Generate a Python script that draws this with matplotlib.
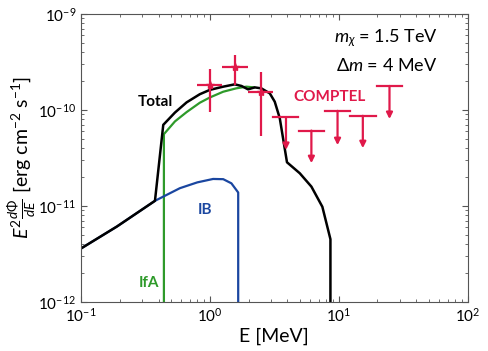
import numpy as np
import matplotlib
matplotlib.use('Agg')
import matplotlib.pyplot as plt

plt.rcParams['font.family'] = ['Lato', 'DejaVu Sans']
plt.rcParams['mathtext.fontset'] = 'custom'
plt.rcParams['mathtext.rm'] = 'Lato'
plt.rcParams['mathtext.it'] = 'Lato:italic'
plt.rcParams['mathtext.bf'] = 'Lato:bold'

# Total spectrum
total_E = [0.1, 0.19, 0.375, 0.435, 0.536, 0.66, 0.836, 1.0, 1.27, 1.56, 1.76, 1.98,
           2.23, 2.51, 2.92, 3.19, 3.49, 3.97, 4.99, 6.14, 7.47, 8.63, 8.63]
total_F = [3.6e-12, 6.1e-12, 1.13e-11, 7.0e-11, 9.4e-11, 1.2e-10, 1.46e-10, 1.62e-10,
           1.75e-10, 1.85e-10, 1.78e-10, 1.64e-10, 1.72e-10, 1.68e-10, 1.49e-10,
           1.22e-10, 8.2e-11, 2.85e-11, 2.19e-11, 1.59e-11, 9.8e-12, 4.5e-12, 1e-13]

# in-flight annihilation
ifa_E = [0.44, 0.44, 0.536, 0.66, 0.836, 1.0, 1.27, 1.6, 1.92, 2.2]
ifa_F = [1e-13, 5.6e-11, 7.6e-11, 9.5e-11, 1.19e-10, 1.35e-10, 1.55e-10, 1.68e-10,
         1.75e-10, 1.72e-10]

# internal bremsstrahlung
ib_E = [0.1, 0.19, 0.375, 0.585, 0.8, 1.06, 1.27, 1.47, 1.66, 1.66]
ib_F = [3.6e-12, 6.1e-12, 1.13e-11, 1.53e-11, 1.76e-11, 1.91e-11, 1.9e-11, 1.72e-11,
        1.38e-11, 1e-13]

# COMPTEL data points
comptel_E = [1.0, 1.58, 2.48]
comptel_Elo = [0.79, 1.25, 1.98]
comptel_Ehi = [1.24, 1.98, 3.1]
comptel_F = [1.82e-10, 2.8e-10, 1.55e-10]
comptel_Flo = [9.5e-11, 1.82e-10, 5.3e-11]
comptel_Fhi = [2.65e-10, 3.74e-10, 2.5e-10]

# COMPTEL upper limits
ul_E = [3.9, 6.14, 9.8, 15.4, 24.8]
ul_Elo = [3.1, 4.92, 7.85, 12.3, 19.8]
ul_Ehi = [4.84, 7.69, 12.3, 19.6, 31.0]
ul_F = [8.4e-11, 6.1e-11, 9.8e-11, 8.7e-11, 1.78e-10]
ul_tip = [3.83e-11, 2.79e-11, 4.3e-11, 4.0e-11, 8.05e-11]

red = '#e0194a'
green = '#2e9a2a'
blue = '#1a46a0'

fig, ax = plt.subplots(figsize=(4.88, 3.51), dpi=100)
fig.subplots_adjust(left=0.166, right=0.958, top=0.96, bottom=0.14)

ax.plot(ifa_E, ifa_F, color=green, lw=1.6)
ax.plot(ib_E, ib_F, color=blue, lw=1.6)
ax.plot(total_E, total_F, color='black', lw=1.8)

# data points with error bars
xerr = [np.array(comptel_E) - np.array(comptel_Elo), np.array(comptel_Ehi) - np.array(comptel_E)]
yerr = [np.array(comptel_F) - np.array(comptel_Flo), np.array(comptel_Fhi) - np.array(comptel_F)]
ax.errorbar(comptel_E, comptel_F, xerr=xerr, yerr=yerr, fmt='*', color=red,
            ms=6, elinewidth=1.6, capsize=0)

# upper limits
for e, lo, hi, f, tip in zip(ul_E, ul_Elo, ul_Ehi, ul_F, ul_tip):
    ax.plot([lo, hi], [f, f], color=red, lw=1.6)
    ax.annotate('', xy=(e, tip), xytext=(e, f),
                arrowprops=dict(arrowstyle='-|>', color=red, lw=1.6,
                                mutation_scale=9, shrinkA=0, shrinkB=0))

ax.set_xscale('log')
ax.set_yscale('log')
ax.set_xlim(0.1, 100)
ax.set_ylim(1e-12, 1e-9)

ax.tick_params(which='both', direction='in', top=True, right=True, labelsize=11,
               color='#555555')
ax.tick_params(which='major', length=4)
ax.tick_params(which='minor', length=2)
for s in ax.spines.values():
    s.set_color('#555555')

ax.set_xlabel('E [MeV]', fontsize=14, labelpad=2)
ax.set_ylabel(r'$E^2\frac{d\Phi}{dE}$ [erg cm$^{-2}$ s$^{-1}$]', fontsize=14, labelpad=0)

ax.text(0.277, 1.1e-10, 'Total', fontsize=11, fontweight='bold', color='black')
ax.text(0.80, 8.2e-12, 'IB', fontsize=11, fontweight='bold', color=blue)
ax.text(0.283, 1.42e-12, 'IfA', fontsize=11, fontweight='bold', color=green)
ax.text(4.48, 1.25e-10, 'COMPTEL', fontsize=11, fontweight='bold', color=red)
ax.text(0.922, 0.903, r'$m_\chi$ = 1.5 TeV', transform=ax.transAxes, fontsize=13,
        ha='right', va='baseline')
ax.text(0.922, 0.802, r'$\Delta m$ = 4 MeV', transform=ax.transAxes, fontsize=13,
        ha='right', va='baseline')

fig.savefig('out.png', dpi=100)
